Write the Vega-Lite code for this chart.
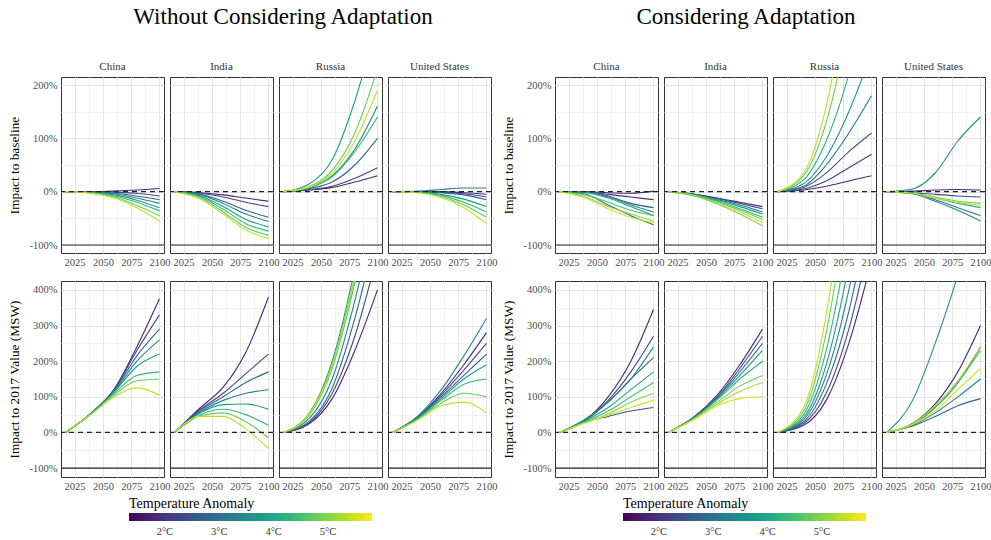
{
"$schema": "https://vega.github.io/schema/vega-lite/v6.json",
"padding": {"left": 7, "top": 6, "right": 0, "bottom": 0},
"background": "white",
"data": {"values": [
{"a":"W","m":"B","c":"China","i":1,"t":1.8,"x":2017,"v":0},{"a":"W","m":"B","c":"China","i":1,"t":1.8,"x":2040,"v":0},{"a":"W","m":"B","c":"China","i":1,"t":1.8,"x":2060,"v":1},{"a":"W","m":"B","c":"China","i":1,"t":1.8,"x":2080,"v":3},{"a":"W","m":"B","c":"China","i":1,"t":1.8,"x":2100,"v":6},
{"a":"W","m":"B","c":"China","i":2,"t":2.3,"x":2017,"v":0},{"a":"W","m":"B","c":"China","i":2,"t":2.3,"x":2040,"v":0},{"a":"W","m":"B","c":"China","i":2,"t":2.3,"x":2060,"v":-1},{"a":"W","m":"B","c":"China","i":2,"t":2.3,"x":2080,"v":-3},{"a":"W","m":"B","c":"China","i":2,"t":2.3,"x":2100,"v":-8},
{"a":"W","m":"B","c":"China","i":3,"t":2.8,"x":2017,"v":0},{"a":"W","m":"B","c":"China","i":3,"t":2.8,"x":2040,"v":-1},{"a":"W","m":"B","c":"China","i":3,"t":2.8,"x":2060,"v":-3},{"a":"W","m":"B","c":"China","i":3,"t":2.8,"x":2080,"v":-8},{"a":"W","m":"B","c":"China","i":3,"t":2.8,"x":2100,"v":-15},
{"a":"W","m":"B","c":"China","i":4,"t":3.3,"x":2017,"v":0},{"a":"W","m":"B","c":"China","i":4,"t":3.3,"x":2040,"v":-1},{"a":"W","m":"B","c":"China","i":4,"t":3.3,"x":2060,"v":-4},{"a":"W","m":"B","c":"China","i":4,"t":3.3,"x":2080,"v":-12},{"a":"W","m":"B","c":"China","i":4,"t":3.3,"x":2100,"v":-22},
{"a":"W","m":"B","c":"China","i":5,"t":3.8,"x":2017,"v":0},{"a":"W","m":"B","c":"China","i":5,"t":3.8,"x":2040,"v":-2},{"a":"W","m":"B","c":"China","i":5,"t":3.8,"x":2060,"v":-6},{"a":"W","m":"B","c":"China","i":5,"t":3.8,"x":2080,"v":-16},{"a":"W","m":"B","c":"China","i":5,"t":3.8,"x":2100,"v":-30},
{"a":"W","m":"B","c":"China","i":6,"t":4.3,"x":2017,"v":0},{"a":"W","m":"B","c":"China","i":6,"t":4.3,"x":2040,"v":-2},{"a":"W","m":"B","c":"China","i":6,"t":4.3,"x":2060,"v":-8},{"a":"W","m":"B","c":"China","i":6,"t":4.3,"x":2080,"v":-20},{"a":"W","m":"B","c":"China","i":6,"t":4.3,"x":2100,"v":-36},
{"a":"W","m":"B","c":"China","i":7,"t":4.8,"x":2017,"v":0},{"a":"W","m":"B","c":"China","i":7,"t":4.8,"x":2040,"v":-3},{"a":"W","m":"B","c":"China","i":7,"t":4.8,"x":2060,"v":-10},{"a":"W","m":"B","c":"China","i":7,"t":4.8,"x":2080,"v":-26},{"a":"W","m":"B","c":"China","i":7,"t":4.8,"x":2100,"v":-45},
{"a":"W","m":"B","c":"China","i":8,"t":5.4,"x":2017,"v":0},{"a":"W","m":"B","c":"China","i":8,"t":5.4,"x":2040,"v":-3},{"a":"W","m":"B","c":"China","i":8,"t":5.4,"x":2060,"v":-12},{"a":"W","m":"B","c":"China","i":8,"t":5.4,"x":2080,"v":-30},{"a":"W","m":"B","c":"China","i":8,"t":5.4,"x":2100,"v":-55},
{"a":"W","m":"B","c":"India","i":1,"t":1.8,"x":2017,"v":0},{"a":"W","m":"B","c":"India","i":1,"t":1.8,"x":2040,"v":-2},{"a":"W","m":"B","c":"India","i":1,"t":1.8,"x":2060,"v":-6},{"a":"W","m":"B","c":"India","i":1,"t":1.8,"x":2080,"v":-12},{"a":"W","m":"B","c":"India","i":1,"t":1.8,"x":2100,"v":-18},
{"a":"W","m":"B","c":"India","i":2,"t":2.3,"x":2017,"v":0},{"a":"W","m":"B","c":"India","i":2,"t":2.3,"x":2040,"v":-3},{"a":"W","m":"B","c":"India","i":2,"t":2.3,"x":2060,"v":-10},{"a":"W","m":"B","c":"India","i":2,"t":2.3,"x":2080,"v":-20},{"a":"W","m":"B","c":"India","i":2,"t":2.3,"x":2100,"v":-28},
{"a":"W","m":"B","c":"India","i":3,"t":2.8,"x":2017,"v":0},{"a":"W","m":"B","c":"India","i":3,"t":2.8,"x":2040,"v":-5},{"a":"W","m":"B","c":"India","i":3,"t":2.8,"x":2060,"v":-18},{"a":"W","m":"B","c":"India","i":3,"t":2.8,"x":2080,"v":-35},{"a":"W","m":"B","c":"India","i":3,"t":2.8,"x":2100,"v":-48},
{"a":"W","m":"B","c":"India","i":4,"t":3.3,"x":2017,"v":0},{"a":"W","m":"B","c":"India","i":4,"t":3.3,"x":2040,"v":-6},{"a":"W","m":"B","c":"India","i":4,"t":3.3,"x":2060,"v":-22},{"a":"W","m":"B","c":"India","i":4,"t":3.3,"x":2080,"v":-42},{"a":"W","m":"B","c":"India","i":4,"t":3.3,"x":2100,"v":-56},
{"a":"W","m":"B","c":"India","i":5,"t":3.8,"x":2017,"v":0},{"a":"W","m":"B","c":"India","i":5,"t":3.8,"x":2040,"v":-8},{"a":"W","m":"B","c":"India","i":5,"t":3.8,"x":2060,"v":-28},{"a":"W","m":"B","c":"India","i":5,"t":3.8,"x":2080,"v":-52},{"a":"W","m":"B","c":"India","i":5,"t":3.8,"x":2100,"v":-66},
{"a":"W","m":"B","c":"India","i":6,"t":4.3,"x":2017,"v":0},{"a":"W","m":"B","c":"India","i":6,"t":4.3,"x":2040,"v":-10},{"a":"W","m":"B","c":"India","i":6,"t":4.3,"x":2060,"v":-33},{"a":"W","m":"B","c":"India","i":6,"t":4.3,"x":2080,"v":-60},{"a":"W","m":"B","c":"India","i":6,"t":4.3,"x":2100,"v":-74},
{"a":"W","m":"B","c":"India","i":7,"t":4.8,"x":2017,"v":0},{"a":"W","m":"B","c":"India","i":7,"t":4.8,"x":2040,"v":-12},{"a":"W","m":"B","c":"India","i":7,"t":4.8,"x":2060,"v":-38},{"a":"W","m":"B","c":"India","i":7,"t":4.8,"x":2080,"v":-67},{"a":"W","m":"B","c":"India","i":7,"t":4.8,"x":2100,"v":-82},
{"a":"W","m":"B","c":"India","i":8,"t":5.4,"x":2017,"v":0},{"a":"W","m":"B","c":"India","i":8,"t":5.4,"x":2040,"v":-14},{"a":"W","m":"B","c":"India","i":8,"t":5.4,"x":2060,"v":-42},{"a":"W","m":"B","c":"India","i":8,"t":5.4,"x":2080,"v":-72},{"a":"W","m":"B","c":"India","i":8,"t":5.4,"x":2100,"v":-88},
{"a":"W","m":"B","c":"Russia","i":1,"t":1.8,"x":2017,"v":0},{"a":"W","m":"B","c":"Russia","i":1,"t":1.8,"x":2040,"v":3},{"a":"W","m":"B","c":"Russia","i":1,"t":1.8,"x":2060,"v":8},{"a":"W","m":"B","c":"Russia","i":1,"t":1.8,"x":2080,"v":18},{"a":"W","m":"B","c":"Russia","i":1,"t":1.8,"x":2100,"v":30},
{"a":"W","m":"B","c":"Russia","i":2,"t":2.3,"x":2017,"v":0},{"a":"W","m":"B","c":"Russia","i":2,"t":2.3,"x":2040,"v":4},{"a":"W","m":"B","c":"Russia","i":2,"t":2.3,"x":2060,"v":10},{"a":"W","m":"B","c":"Russia","i":2,"t":2.3,"x":2080,"v":25},{"a":"W","m":"B","c":"Russia","i":2,"t":2.3,"x":2100,"v":45},
{"a":"W","m":"B","c":"Russia","i":3,"t":2.8,"x":2017,"v":0},{"a":"W","m":"B","c":"Russia","i":3,"t":2.8,"x":2040,"v":6},{"a":"W","m":"B","c":"Russia","i":3,"t":2.8,"x":2060,"v":18},{"a":"W","m":"B","c":"Russia","i":3,"t":2.8,"x":2080,"v":50},{"a":"W","m":"B","c":"Russia","i":3,"t":2.8,"x":2100,"v":100},
{"a":"W","m":"B","c":"Russia","i":4,"t":3.3,"x":2017,"v":0},{"a":"W","m":"B","c":"Russia","i":4,"t":3.3,"x":2040,"v":8},{"a":"W","m":"B","c":"Russia","i":4,"t":3.3,"x":2060,"v":30},{"a":"W","m":"B","c":"Russia","i":4,"t":3.3,"x":2080,"v":80},{"a":"W","m":"B","c":"Russia","i":4,"t":3.3,"x":2100,"v":160},
{"a":"W","m":"B","c":"Russia","i":5,"t":3.8,"x":2017,"v":0},{"a":"W","m":"B","c":"Russia","i":5,"t":3.8,"x":2040,"v":15},{"a":"W","m":"B","c":"Russia","i":5,"t":3.8,"x":2060,"v":60},{"a":"W","m":"B","c":"Russia","i":5,"t":3.8,"x":2080,"v":170},{"a":"W","m":"B","c":"Russia","i":5,"t":3.8,"x":2100,"v":320},
{"a":"W","m":"B","c":"Russia","i":6,"t":4.3,"x":2017,"v":0},{"a":"W","m":"B","c":"Russia","i":6,"t":4.3,"x":2040,"v":8},{"a":"W","m":"B","c":"Russia","i":6,"t":4.3,"x":2060,"v":28},{"a":"W","m":"B","c":"Russia","i":6,"t":4.3,"x":2080,"v":75},{"a":"W","m":"B","c":"Russia","i":6,"t":4.3,"x":2100,"v":140},
{"a":"W","m":"B","c":"Russia","i":7,"t":4.8,"x":2017,"v":0},{"a":"W","m":"B","c":"Russia","i":7,"t":4.8,"x":2040,"v":10},{"a":"W","m":"B","c":"Russia","i":7,"t":4.8,"x":2060,"v":40},{"a":"W","m":"B","c":"Russia","i":7,"t":4.8,"x":2080,"v":110},{"a":"W","m":"B","c":"Russia","i":7,"t":4.8,"x":2100,"v":230},
{"a":"W","m":"B","c":"Russia","i":8,"t":5.4,"x":2017,"v":0},{"a":"W","m":"B","c":"Russia","i":8,"t":5.4,"x":2040,"v":9},{"a":"W","m":"B","c":"Russia","i":8,"t":5.4,"x":2060,"v":35},{"a":"W","m":"B","c":"Russia","i":8,"t":5.4,"x":2080,"v":95},{"a":"W","m":"B","c":"Russia","i":8,"t":5.4,"x":2100,"v":190},
{"a":"W","m":"B","c":"United States","i":1,"t":1.8,"x":2017,"v":0},{"a":"W","m":"B","c":"United States","i":1,"t":1.8,"x":2040,"v":0},{"a":"W","m":"B","c":"United States","i":1,"t":1.8,"x":2060,"v":0},{"a":"W","m":"B","c":"United States","i":1,"t":1.8,"x":2080,"v":-2},{"a":"W","m":"B","c":"United States","i":1,"t":1.8,"x":2100,"v":-5},
{"a":"W","m":"B","c":"United States","i":2,"t":2.3,"x":2017,"v":0},{"a":"W","m":"B","c":"United States","i":2,"t":2.3,"x":2040,"v":0},{"a":"W","m":"B","c":"United States","i":2,"t":2.3,"x":2060,"v":-1},{"a":"W","m":"B","c":"United States","i":2,"t":2.3,"x":2080,"v":-4},{"a":"W","m":"B","c":"United States","i":2,"t":2.3,"x":2100,"v":-10},
{"a":"W","m":"B","c":"United States","i":3,"t":2.8,"x":2017,"v":0},{"a":"W","m":"B","c":"United States","i":3,"t":2.8,"x":2040,"v":0},{"a":"W","m":"B","c":"United States","i":3,"t":2.8,"x":2060,"v":-2},{"a":"W","m":"B","c":"United States","i":3,"t":2.8,"x":2080,"v":-6},{"a":"W","m":"B","c":"United States","i":3,"t":2.8,"x":2100,"v":-15},
{"a":"W","m":"B","c":"United States","i":4,"t":3.3,"x":2017,"v":0},{"a":"W","m":"B","c":"United States","i":4,"t":3.3,"x":2040,"v":1},{"a":"W","m":"B","c":"United States","i":4,"t":3.3,"x":2060,"v":4},{"a":"W","m":"B","c":"United States","i":4,"t":3.3,"x":2080,"v":7},{"a":"W","m":"B","c":"United States","i":4,"t":3.3,"x":2100,"v":7},
{"a":"W","m":"B","c":"United States","i":5,"t":3.8,"x":2017,"v":0},{"a":"W","m":"B","c":"United States","i":5,"t":3.8,"x":2040,"v":-1},{"a":"W","m":"B","c":"United States","i":5,"t":3.8,"x":2060,"v":-5},{"a":"W","m":"B","c":"United States","i":5,"t":3.8,"x":2080,"v":-14},{"a":"W","m":"B","c":"United States","i":5,"t":3.8,"x":2100,"v":-28},
{"a":"W","m":"B","c":"United States","i":6,"t":4.3,"x":2017,"v":0},{"a":"W","m":"B","c":"United States","i":6,"t":4.3,"x":2040,"v":-1},{"a":"W","m":"B","c":"United States","i":6,"t":4.3,"x":2060,"v":-7},{"a":"W","m":"B","c":"United States","i":6,"t":4.3,"x":2080,"v":-20},{"a":"W","m":"B","c":"United States","i":6,"t":4.3,"x":2100,"v":-38},
{"a":"W","m":"B","c":"United States","i":7,"t":4.8,"x":2017,"v":0},{"a":"W","m":"B","c":"United States","i":7,"t":4.8,"x":2040,"v":-2},{"a":"W","m":"B","c":"United States","i":7,"t":4.8,"x":2060,"v":-9},{"a":"W","m":"B","c":"United States","i":7,"t":4.8,"x":2080,"v":-25},{"a":"W","m":"B","c":"United States","i":7,"t":4.8,"x":2100,"v":-48},
{"a":"W","m":"B","c":"United States","i":8,"t":5.4,"x":2017,"v":0},{"a":"W","m":"B","c":"United States","i":8,"t":5.4,"x":2040,"v":-2},{"a":"W","m":"B","c":"United States","i":8,"t":5.4,"x":2060,"v":-11},{"a":"W","m":"B","c":"United States","i":8,"t":5.4,"x":2080,"v":-30},{"a":"W","m":"B","c":"United States","i":8,"t":5.4,"x":2100,"v":-60},
{"a":"W","m":"V","c":"China","i":1,"t":1.8,"x":2017,"v":0},{"a":"W","m":"V","c":"China","i":1,"t":1.8,"x":2040,"v":55},{"a":"W","m":"V","c":"China","i":1,"t":1.8,"x":2060,"v":122},{"a":"W","m":"V","c":"China","i":1,"t":1.8,"x":2080,"v":240},{"a":"W","m":"V","c":"China","i":1,"t":1.8,"x":2100,"v":375},
{"a":"W","m":"V","c":"China","i":2,"t":2.3,"x":2017,"v":0},{"a":"W","m":"V","c":"China","i":2,"t":2.3,"x":2040,"v":55},{"a":"W","m":"V","c":"China","i":2,"t":2.3,"x":2060,"v":120},{"a":"W","m":"V","c":"China","i":2,"t":2.3,"x":2080,"v":230},{"a":"W","m":"V","c":"China","i":2,"t":2.3,"x":2100,"v":330},
{"a":"W","m":"V","c":"China","i":3,"t":2.8,"x":2017,"v":0},{"a":"W","m":"V","c":"China","i":3,"t":2.8,"x":2040,"v":54},{"a":"W","m":"V","c":"China","i":3,"t":2.8,"x":2060,"v":118},{"a":"W","m":"V","c":"China","i":3,"t":2.8,"x":2080,"v":215},{"a":"W","m":"V","c":"China","i":3,"t":2.8,"x":2100,"v":290},
{"a":"W","m":"V","c":"China","i":4,"t":3.3,"x":2017,"v":0},{"a":"W","m":"V","c":"China","i":4,"t":3.3,"x":2040,"v":54},{"a":"W","m":"V","c":"China","i":4,"t":3.3,"x":2060,"v":116},{"a":"W","m":"V","c":"China","i":4,"t":3.3,"x":2080,"v":200},{"a":"W","m":"V","c":"China","i":4,"t":3.3,"x":2100,"v":260},
{"a":"W","m":"V","c":"China","i":5,"t":3.8,"x":2017,"v":0},{"a":"W","m":"V","c":"China","i":5,"t":3.8,"x":2040,"v":54},{"a":"W","m":"V","c":"China","i":5,"t":3.8,"x":2060,"v":114},{"a":"W","m":"V","c":"China","i":5,"t":3.8,"x":2080,"v":185},{"a":"W","m":"V","c":"China","i":5,"t":3.8,"x":2100,"v":220},
{"a":"W","m":"V","c":"China","i":6,"t":4.3,"x":2017,"v":0},{"a":"W","m":"V","c":"China","i":6,"t":4.3,"x":2040,"v":53},{"a":"W","m":"V","c":"China","i":6,"t":4.3,"x":2060,"v":110},{"a":"W","m":"V","c":"China","i":6,"t":4.3,"x":2080,"v":160},{"a":"W","m":"V","c":"China","i":6,"t":4.3,"x":2100,"v":170},
{"a":"W","m":"V","c":"China","i":7,"t":4.8,"x":2017,"v":0},{"a":"W","m":"V","c":"China","i":7,"t":4.8,"x":2040,"v":52},{"a":"W","m":"V","c":"China","i":7,"t":4.8,"x":2060,"v":105},{"a":"W","m":"V","c":"China","i":7,"t":4.8,"x":2080,"v":145},{"a":"W","m":"V","c":"China","i":7,"t":4.8,"x":2100,"v":150},
{"a":"W","m":"V","c":"China","i":8,"t":5.4,"x":2017,"v":0},{"a":"W","m":"V","c":"China","i":8,"t":5.4,"x":2040,"v":52},{"a":"W","m":"V","c":"China","i":8,"t":5.4,"x":2060,"v":100},{"a":"W","m":"V","c":"China","i":8,"t":5.4,"x":2080,"v":125},{"a":"W","m":"V","c":"China","i":8,"t":5.4,"x":2100,"v":105},
{"a":"W","m":"V","c":"India","i":1,"t":1.8,"x":2017,"v":0},{"a":"W","m":"V","c":"India","i":1,"t":1.8,"x":2040,"v":70},{"a":"W","m":"V","c":"India","i":1,"t":1.8,"x":2060,"v":127},{"a":"W","m":"V","c":"India","i":1,"t":1.8,"x":2080,"v":225},{"a":"W","m":"V","c":"India","i":1,"t":1.8,"x":2100,"v":380},
{"a":"W","m":"V","c":"India","i":2,"t":2.3,"x":2017,"v":0},{"a":"W","m":"V","c":"India","i":2,"t":2.3,"x":2040,"v":65},{"a":"W","m":"V","c":"India","i":2,"t":2.3,"x":2060,"v":110},{"a":"W","m":"V","c":"India","i":2,"t":2.3,"x":2080,"v":165},{"a":"W","m":"V","c":"India","i":2,"t":2.3,"x":2100,"v":220},
{"a":"W","m":"V","c":"India","i":3,"t":2.8,"x":2017,"v":0},{"a":"W","m":"V","c":"India","i":3,"t":2.8,"x":2040,"v":62},{"a":"W","m":"V","c":"India","i":3,"t":2.8,"x":2060,"v":100},{"a":"W","m":"V","c":"India","i":3,"t":2.8,"x":2080,"v":140},{"a":"W","m":"V","c":"India","i":3,"t":2.8,"x":2100,"v":170},
{"a":"W","m":"V","c":"India","i":4,"t":3.3,"x":2017,"v":0},{"a":"W","m":"V","c":"India","i":4,"t":3.3,"x":2040,"v":58},{"a":"W","m":"V","c":"India","i":4,"t":3.3,"x":2060,"v":90},{"a":"W","m":"V","c":"India","i":4,"t":3.3,"x":2080,"v":110},{"a":"W","m":"V","c":"India","i":4,"t":3.3,"x":2100,"v":120},
{"a":"W","m":"V","c":"India","i":5,"t":3.8,"x":2017,"v":0},{"a":"W","m":"V","c":"India","i":5,"t":3.8,"x":2040,"v":55},{"a":"W","m":"V","c":"India","i":5,"t":3.8,"x":2060,"v":78},{"a":"W","m":"V","c":"India","i":5,"t":3.8,"x":2080,"v":80},{"a":"W","m":"V","c":"India","i":5,"t":3.8,"x":2100,"v":65},
{"a":"W","m":"V","c":"India","i":6,"t":4.3,"x":2017,"v":0},{"a":"W","m":"V","c":"India","i":6,"t":4.3,"x":2040,"v":50},{"a":"W","m":"V","c":"India","i":6,"t":4.3,"x":2060,"v":65},{"a":"W","m":"V","c":"India","i":6,"t":4.3,"x":2080,"v":50},{"a":"W","m":"V","c":"India","i":6,"t":4.3,"x":2100,"v":20},
{"a":"W","m":"V","c":"India","i":7,"t":4.8,"x":2017,"v":0},{"a":"W","m":"V","c":"India","i":7,"t":4.8,"x":2040,"v":47},{"a":"W","m":"V","c":"India","i":7,"t":4.8,"x":2060,"v":55},{"a":"W","m":"V","c":"India","i":7,"t":4.8,"x":2080,"v":30},{"a":"W","m":"V","c":"India","i":7,"t":4.8,"x":2100,"v":-15},
{"a":"W","m":"V","c":"India","i":8,"t":5.4,"x":2017,"v":0},{"a":"W","m":"V","c":"India","i":8,"t":5.4,"x":2040,"v":45},{"a":"W","m":"V","c":"India","i":8,"t":5.4,"x":2060,"v":45},{"a":"W","m":"V","c":"India","i":8,"t":5.4,"x":2080,"v":10},{"a":"W","m":"V","c":"India","i":8,"t":5.4,"x":2100,"v":-45},
{"a":"W","m":"V","c":"Russia","i":1,"t":1.8,"x":2017,"v":0},{"a":"W","m":"V","c":"Russia","i":1,"t":1.8,"x":2040,"v":25},{"a":"W","m":"V","c":"Russia","i":1,"t":1.8,"x":2060,"v":95},{"a":"W","m":"V","c":"Russia","i":1,"t":1.8,"x":2080,"v":230},{"a":"W","m":"V","c":"Russia","i":1,"t":1.8,"x":2100,"v":400},
{"a":"W","m":"V","c":"Russia","i":2,"t":2.3,"x":2017,"v":0},{"a":"W","m":"V","c":"Russia","i":2,"t":2.3,"x":2040,"v":28},{"a":"W","m":"V","c":"Russia","i":2,"t":2.3,"x":2060,"v":110},{"a":"W","m":"V","c":"Russia","i":2,"t":2.3,"x":2080,"v":270},{"a":"W","m":"V","c":"Russia","i":2,"t":2.3,"x":2100,"v":500},
{"a":"W","m":"V","c":"Russia","i":3,"t":2.8,"x":2017,"v":0},{"a":"W","m":"V","c":"Russia","i":3,"t":2.8,"x":2040,"v":32},{"a":"W","m":"V","c":"Russia","i":3,"t":2.8,"x":2060,"v":125},{"a":"W","m":"V","c":"Russia","i":3,"t":2.8,"x":2080,"v":320},{"a":"W","m":"V","c":"Russia","i":3,"t":2.8,"x":2100,"v":580},
{"a":"W","m":"V","c":"Russia","i":4,"t":3.3,"x":2017,"v":0},{"a":"W","m":"V","c":"Russia","i":4,"t":3.3,"x":2040,"v":40},{"a":"W","m":"V","c":"Russia","i":4,"t":3.3,"x":2060,"v":150},{"a":"W","m":"V","c":"Russia","i":4,"t":3.3,"x":2080,"v":370},{"a":"W","m":"V","c":"Russia","i":4,"t":3.3,"x":2100,"v":650},
{"a":"W","m":"V","c":"Russia","i":5,"t":3.8,"x":2017,"v":0},{"a":"W","m":"V","c":"Russia","i":5,"t":3.8,"x":2040,"v":55},{"a":"W","m":"V","c":"Russia","i":5,"t":3.8,"x":2060,"v":200},{"a":"W","m":"V","c":"Russia","i":5,"t":3.8,"x":2080,"v":460},{"a":"W","m":"V","c":"Russia","i":5,"t":3.8,"x":2100,"v":800},
{"a":"W","m":"V","c":"Russia","i":6,"t":4.3,"x":2017,"v":0},{"a":"W","m":"V","c":"Russia","i":6,"t":4.3,"x":2040,"v":50},{"a":"W","m":"V","c":"Russia","i":6,"t":4.3,"x":2060,"v":180},{"a":"W","m":"V","c":"Russia","i":6,"t":4.3,"x":2080,"v":420},{"a":"W","m":"V","c":"Russia","i":6,"t":4.3,"x":2100,"v":720},
{"a":"W","m":"V","c":"Russia","i":7,"t":4.8,"x":2017,"v":0},{"a":"W","m":"V","c":"Russia","i":7,"t":4.8,"x":2040,"v":55},{"a":"W","m":"V","c":"Russia","i":7,"t":4.8,"x":2060,"v":190},{"a":"W","m":"V","c":"Russia","i":7,"t":4.8,"x":2080,"v":440},{"a":"W","m":"V","c":"Russia","i":7,"t":4.8,"x":2100,"v":760},
{"a":"W","m":"V","c":"Russia","i":8,"t":5.4,"x":2017,"v":0},{"a":"W","m":"V","c":"Russia","i":8,"t":5.4,"x":2040,"v":52},{"a":"W","m":"V","c":"Russia","i":8,"t":5.4,"x":2060,"v":185},{"a":"W","m":"V","c":"Russia","i":8,"t":5.4,"x":2080,"v":430},{"a":"W","m":"V","c":"Russia","i":8,"t":5.4,"x":2100,"v":740},
{"a":"W","m":"V","c":"United States","i":1,"t":1.8,"x":2017,"v":0},{"a":"W","m":"V","c":"United States","i":1,"t":1.8,"x":2040,"v":45},{"a":"W","m":"V","c":"United States","i":1,"t":1.8,"x":2060,"v":110},{"a":"W","m":"V","c":"United States","i":1,"t":1.8,"x":2080,"v":190},{"a":"W","m":"V","c":"United States","i":1,"t":1.8,"x":2100,"v":280},
{"a":"W","m":"V","c":"United States","i":2,"t":2.3,"x":2017,"v":0},{"a":"W","m":"V","c":"United States","i":2,"t":2.3,"x":2040,"v":45},{"a":"W","m":"V","c":"United States","i":2,"t":2.3,"x":2060,"v":105},{"a":"W","m":"V","c":"United States","i":2,"t":2.3,"x":2080,"v":175},{"a":"W","m":"V","c":"United States","i":2,"t":2.3,"x":2100,"v":250},
{"a":"W","m":"V","c":"United States","i":3,"t":2.8,"x":2017,"v":0},{"a":"W","m":"V","c":"United States","i":3,"t":2.8,"x":2040,"v":43},{"a":"W","m":"V","c":"United States","i":3,"t":2.8,"x":2060,"v":100},{"a":"W","m":"V","c":"United States","i":3,"t":2.8,"x":2080,"v":160},{"a":"W","m":"V","c":"United States","i":3,"t":2.8,"x":2100,"v":220},
{"a":"W","m":"V","c":"United States","i":4,"t":3.3,"x":2017,"v":0},{"a":"W","m":"V","c":"United States","i":4,"t":3.3,"x":2040,"v":48},{"a":"W","m":"V","c":"United States","i":4,"t":3.3,"x":2060,"v":120},{"a":"W","m":"V","c":"United States","i":4,"t":3.3,"x":2080,"v":215},{"a":"W","m":"V","c":"United States","i":4,"t":3.3,"x":2100,"v":320},
{"a":"W","m":"V","c":"United States","i":5,"t":3.8,"x":2017,"v":0},{"a":"W","m":"V","c":"United States","i":5,"t":3.8,"x":2040,"v":42},{"a":"W","m":"V","c":"United States","i":5,"t":3.8,"x":2060,"v":95},{"a":"W","m":"V","c":"United States","i":5,"t":3.8,"x":2080,"v":150},{"a":"W","m":"V","c":"United States","i":5,"t":3.8,"x":2100,"v":190},
{"a":"W","m":"V","c":"United States","i":6,"t":4.3,"x":2017,"v":0},{"a":"W","m":"V","c":"United States","i":6,"t":4.3,"x":2040,"v":40},{"a":"W","m":"V","c":"United States","i":6,"t":4.3,"x":2060,"v":90},{"a":"W","m":"V","c":"United States","i":6,"t":4.3,"x":2080,"v":135},{"a":"W","m":"V","c":"United States","i":6,"t":4.3,"x":2100,"v":150},
{"a":"W","m":"V","c":"United States","i":7,"t":4.8,"x":2017,"v":0},{"a":"W","m":"V","c":"United States","i":7,"t":4.8,"x":2040,"v":38},{"a":"W","m":"V","c":"United States","i":7,"t":4.8,"x":2060,"v":82},{"a":"W","m":"V","c":"United States","i":7,"t":4.8,"x":2080,"v":110},{"a":"W","m":"V","c":"United States","i":7,"t":4.8,"x":2100,"v":100},
{"a":"W","m":"V","c":"United States","i":8,"t":5.4,"x":2017,"v":0},{"a":"W","m":"V","c":"United States","i":8,"t":5.4,"x":2040,"v":36},{"a":"W","m":"V","c":"United States","i":8,"t":5.4,"x":2060,"v":75},{"a":"W","m":"V","c":"United States","i":8,"t":5.4,"x":2080,"v":85},{"a":"W","m":"V","c":"United States","i":8,"t":5.4,"x":2100,"v":55},
{"a":"C","m":"B","c":"China","i":1,"t":1.8,"x":2017,"v":0},{"a":"C","m":"B","c":"China","i":1,"t":1.8,"x":2040,"v":0},{"a":"C","m":"B","c":"China","i":1,"t":1.8,"x":2060,"v":-2},{"a":"C","m":"B","c":"China","i":1,"t":1.8,"x":2080,"v":-3},{"a":"C","m":"B","c":"China","i":1,"t":1.8,"x":2100,"v":1},
{"a":"C","m":"B","c":"China","i":2,"t":2.0,"x":2017,"v":0},{"a":"C","m":"B","c":"China","i":2,"t":2.0,"x":2040,"v":-1},{"a":"C","m":"B","c":"China","i":2,"t":2.0,"x":2060,"v":-5},{"a":"C","m":"B","c":"China","i":2,"t":2.0,"x":2080,"v":-10},{"a":"C","m":"B","c":"China","i":2,"t":2.0,"x":2100,"v":-15},
{"a":"C","m":"B","c":"China","i":3,"t":2.6,"x":2017,"v":0},{"a":"C","m":"B","c":"China","i":3,"t":2.6,"x":2040,"v":0},{"a":"C","m":"B","c":"China","i":3,"t":2.6,"x":2060,"v":-8},{"a":"C","m":"B","c":"China","i":3,"t":2.6,"x":2080,"v":-22},{"a":"C","m":"B","c":"China","i":3,"t":2.6,"x":2100,"v":-30},
{"a":"C","m":"B","c":"China","i":4,"t":2.9,"x":2017,"v":0},{"a":"C","m":"B","c":"China","i":4,"t":2.9,"x":2040,"v":-5},{"a":"C","m":"B","c":"China","i":4,"t":2.9,"x":2060,"v":-25},{"a":"C","m":"B","c":"China","i":4,"t":2.9,"x":2080,"v":-45},{"a":"C","m":"B","c":"China","i":4,"t":2.9,"x":2100,"v":-62},
{"a":"C","m":"B","c":"China","i":5,"t":3.4,"x":2017,"v":0},{"a":"C","m":"B","c":"China","i":5,"t":3.4,"x":2040,"v":-1},{"a":"C","m":"B","c":"China","i":5,"t":3.4,"x":2060,"v":-10},{"a":"C","m":"B","c":"China","i":5,"t":3.4,"x":2080,"v":-25},{"a":"C","m":"B","c":"China","i":5,"t":3.4,"x":2100,"v":-38},
{"a":"C","m":"B","c":"China","i":6,"t":3.9,"x":2017,"v":0},{"a":"C","m":"B","c":"China","i":6,"t":3.9,"x":2040,"v":-2},{"a":"C","m":"B","c":"China","i":6,"t":3.9,"x":2060,"v":-12},{"a":"C","m":"B","c":"China","i":6,"t":3.9,"x":2080,"v":-28},{"a":"C","m":"B","c":"China","i":6,"t":3.9,"x":2100,"v":-45},
{"a":"C","m":"B","c":"China","i":7,"t":4.5,"x":2017,"v":0},{"a":"C","m":"B","c":"China","i":7,"t":4.5,"x":2040,"v":-6},{"a":"C","m":"B","c":"China","i":7,"t":4.5,"x":2060,"v":-20},{"a":"C","m":"B","c":"China","i":7,"t":4.5,"x":2080,"v":-35},{"a":"C","m":"B","c":"China","i":7,"t":4.5,"x":2100,"v":-45},
{"a":"C","m":"B","c":"China","i":8,"t":5.0,"x":2017,"v":0},{"a":"C","m":"B","c":"China","i":8,"t":5.0,"x":2040,"v":-10},{"a":"C","m":"B","c":"China","i":8,"t":5.0,"x":2060,"v":-28},{"a":"C","m":"B","c":"China","i":8,"t":5.0,"x":2080,"v":-42},{"a":"C","m":"B","c":"China","i":8,"t":5.0,"x":2100,"v":-55},
{"a":"C","m":"B","c":"China","i":9,"t":5.5,"x":2017,"v":0},{"a":"C","m":"B","c":"China","i":9,"t":5.5,"x":2040,"v":-12},{"a":"C","m":"B","c":"China","i":9,"t":5.5,"x":2060,"v":-32},{"a":"C","m":"B","c":"China","i":9,"t":5.5,"x":2080,"v":-48},{"a":"C","m":"B","c":"China","i":9,"t":5.5,"x":2100,"v":-58},
{"a":"C","m":"B","c":"India","i":1,"t":1.8,"x":2017,"v":0},{"a":"C","m":"B","c":"India","i":1,"t":1.8,"x":2040,"v":-5},{"a":"C","m":"B","c":"India","i":1,"t":1.8,"x":2060,"v":-12},{"a":"C","m":"B","c":"India","i":1,"t":1.8,"x":2080,"v":-20},{"a":"C","m":"B","c":"India","i":1,"t":1.8,"x":2100,"v":-28},
{"a":"C","m":"B","c":"India","i":2,"t":2.5,"x":2017,"v":0},{"a":"C","m":"B","c":"India","i":2,"t":2.5,"x":2040,"v":-5},{"a":"C","m":"B","c":"India","i":2,"t":2.5,"x":2060,"v":-13},{"a":"C","m":"B","c":"India","i":2,"t":2.5,"x":2080,"v":-22},{"a":"C","m":"B","c":"India","i":2,"t":2.5,"x":2100,"v":-32},
{"a":"C","m":"B","c":"India","i":3,"t":3.2,"x":2017,"v":0},{"a":"C","m":"B","c":"India","i":3,"t":3.2,"x":2040,"v":-6},{"a":"C","m":"B","c":"India","i":3,"t":3.2,"x":2060,"v":-15},{"a":"C","m":"B","c":"India","i":3,"t":3.2,"x":2080,"v":-25},{"a":"C","m":"B","c":"India","i":3,"t":3.2,"x":2100,"v":-38},
{"a":"C","m":"B","c":"India","i":4,"t":3.8,"x":2017,"v":0},{"a":"C","m":"B","c":"India","i":4,"t":3.8,"x":2040,"v":-6},{"a":"C","m":"B","c":"India","i":4,"t":3.8,"x":2060,"v":-16},{"a":"C","m":"B","c":"India","i":4,"t":3.8,"x":2080,"v":-28},{"a":"C","m":"B","c":"India","i":4,"t":3.8,"x":2100,"v":-42},
{"a":"C","m":"B","c":"India","i":5,"t":4.3,"x":2017,"v":0},{"a":"C","m":"B","c":"India","i":5,"t":4.3,"x":2040,"v":-7},{"a":"C","m":"B","c":"India","i":5,"t":4.3,"x":2060,"v":-18},{"a":"C","m":"B","c":"India","i":5,"t":4.3,"x":2080,"v":-32},{"a":"C","m":"B","c":"India","i":5,"t":4.3,"x":2100,"v":-48},
{"a":"C","m":"B","c":"India","i":6,"t":4.8,"x":2017,"v":0},{"a":"C","m":"B","c":"India","i":6,"t":4.8,"x":2040,"v":-7},{"a":"C","m":"B","c":"India","i":6,"t":4.8,"x":2060,"v":-20},{"a":"C","m":"B","c":"India","i":6,"t":4.8,"x":2080,"v":-35},{"a":"C","m":"B","c":"India","i":6,"t":4.8,"x":2100,"v":-52},
{"a":"C","m":"B","c":"India","i":7,"t":5.4,"x":2017,"v":0},{"a":"C","m":"B","c":"India","i":7,"t":5.4,"x":2040,"v":-8},{"a":"C","m":"B","c":"India","i":7,"t":5.4,"x":2060,"v":-22},{"a":"C","m":"B","c":"India","i":7,"t":5.4,"x":2080,"v":-38},{"a":"C","m":"B","c":"India","i":7,"t":5.4,"x":2100,"v":-58},
{"a":"C","m":"B","c":"India","i":8,"t":5.0,"x":2017,"v":0},{"a":"C","m":"B","c":"India","i":8,"t":5.0,"x":2040,"v":-8},{"a":"C","m":"B","c":"India","i":8,"t":5.0,"x":2060,"v":-23},{"a":"C","m":"B","c":"India","i":8,"t":5.0,"x":2080,"v":-42},{"a":"C","m":"B","c":"India","i":8,"t":5.0,"x":2100,"v":-64},
{"a":"C","m":"B","c":"Russia","i":1,"t":1.8,"x":2017,"v":0},{"a":"C","m":"B","c":"Russia","i":1,"t":1.8,"x":2040,"v":3},{"a":"C","m":"B","c":"Russia","i":1,"t":1.8,"x":2060,"v":10},{"a":"C","m":"B","c":"Russia","i":1,"t":1.8,"x":2080,"v":20},{"a":"C","m":"B","c":"Russia","i":1,"t":1.8,"x":2100,"v":30},
{"a":"C","m":"B","c":"Russia","i":2,"t":2.2,"x":2017,"v":0},{"a":"C","m":"B","c":"Russia","i":2,"t":2.2,"x":2040,"v":5},{"a":"C","m":"B","c":"Russia","i":2,"t":2.2,"x":2060,"v":20},{"a":"C","m":"B","c":"Russia","i":2,"t":2.2,"x":2080,"v":45},{"a":"C","m":"B","c":"Russia","i":2,"t":2.2,"x":2100,"v":70},
{"a":"C","m":"B","c":"Russia","i":3,"t":2.6,"x":2017,"v":0},{"a":"C","m":"B","c":"Russia","i":3,"t":2.6,"x":2040,"v":8},{"a":"C","m":"B","c":"Russia","i":3,"t":2.6,"x":2060,"v":35},{"a":"C","m":"B","c":"Russia","i":3,"t":2.6,"x":2080,"v":75},{"a":"C","m":"B","c":"Russia","i":3,"t":2.6,"x":2100,"v":110},
{"a":"C","m":"B","c":"Russia","i":4,"t":3.1,"x":2017,"v":0},{"a":"C","m":"B","c":"Russia","i":4,"t":3.1,"x":2040,"v":10},{"a":"C","m":"B","c":"Russia","i":4,"t":3.1,"x":2060,"v":50},{"a":"C","m":"B","c":"Russia","i":4,"t":3.1,"x":2080,"v":110},{"a":"C","m":"B","c":"Russia","i":4,"t":3.1,"x":2100,"v":180},
{"a":"C","m":"B","c":"Russia","i":5,"t":3.6,"x":2017,"v":0},{"a":"C","m":"B","c":"Russia","i":5,"t":3.6,"x":2040,"v":15},{"a":"C","m":"B","c":"Russia","i":5,"t":3.6,"x":2060,"v":65},{"a":"C","m":"B","c":"Russia","i":5,"t":3.6,"x":2080,"v":150},{"a":"C","m":"B","c":"Russia","i":5,"t":3.6,"x":2100,"v":260},
{"a":"C","m":"B","c":"Russia","i":6,"t":4.2,"x":2017,"v":0},{"a":"C","m":"B","c":"Russia","i":6,"t":4.2,"x":2040,"v":22},{"a":"C","m":"B","c":"Russia","i":6,"t":4.2,"x":2060,"v":95},{"a":"C","m":"B","c":"Russia","i":6,"t":4.2,"x":2080,"v":220},{"a":"C","m":"B","c":"Russia","i":6,"t":4.2,"x":2100,"v":400},
{"a":"C","m":"B","c":"Russia","i":7,"t":4.8,"x":2017,"v":0},{"a":"C","m":"B","c":"Russia","i":7,"t":4.8,"x":2040,"v":30},{"a":"C","m":"B","c":"Russia","i":7,"t":4.8,"x":2060,"v":130},{"a":"C","m":"B","c":"Russia","i":7,"t":4.8,"x":2080,"v":320},{"a":"C","m":"B","c":"Russia","i":7,"t":4.8,"x":2100,"v":600},
{"a":"C","m":"B","c":"Russia","i":8,"t":5.4,"x":2017,"v":0},{"a":"C","m":"B","c":"Russia","i":8,"t":5.4,"x":2040,"v":35},{"a":"C","m":"B","c":"Russia","i":8,"t":5.4,"x":2060,"v":160},{"a":"C","m":"B","c":"Russia","i":8,"t":5.4,"x":2080,"v":400},{"a":"C","m":"B","c":"Russia","i":8,"t":5.4,"x":2100,"v":750},
{"a":"C","m":"B","c":"United States","i":1,"t":1.8,"x":2017,"v":0},{"a":"C","m":"B","c":"United States","i":1,"t":1.8,"x":2040,"v":1},{"a":"C","m":"B","c":"United States","i":1,"t":1.8,"x":2060,"v":3},{"a":"C","m":"B","c":"United States","i":1,"t":1.8,"x":2080,"v":4},{"a":"C","m":"B","c":"United States","i":1,"t":1.8,"x":2100,"v":3},
{"a":"C","m":"B","c":"United States","i":2,"t":2.4,"x":2017,"v":0},{"a":"C","m":"B","c":"United States","i":2,"t":2.4,"x":2040,"v":-2},{"a":"C","m":"B","c":"United States","i":2,"t":2.4,"x":2060,"v":-5},{"a":"C","m":"B","c":"United States","i":2,"t":2.4,"x":2080,"v":-8},{"a":"C","m":"B","c":"United States","i":2,"t":2.4,"x":2100,"v":-10},
{"a":"C","m":"B","c":"United States","i":3,"t":3.0,"x":2017,"v":0},{"a":"C","m":"B","c":"United States","i":3,"t":3.0,"x":2040,"v":-3},{"a":"C","m":"B","c":"United States","i":3,"t":3.0,"x":2060,"v":-15},{"a":"C","m":"B","c":"United States","i":3,"t":3.0,"x":2080,"v":-30},{"a":"C","m":"B","c":"United States","i":3,"t":3.0,"x":2100,"v":-45},
{"a":"C","m":"B","c":"United States","i":4,"t":3.3,"x":2017,"v":0},{"a":"C","m":"B","c":"United States","i":4,"t":3.3,"x":2040,"v":-4},{"a":"C","m":"B","c":"United States","i":4,"t":3.3,"x":2060,"v":-18},{"a":"C","m":"B","c":"United States","i":4,"t":3.3,"x":2080,"v":-35},{"a":"C","m":"B","c":"United States","i":4,"t":3.3,"x":2100,"v":-55},
{"a":"C","m":"B","c":"United States","i":5,"t":3.6,"x":2017,"v":0},{"a":"C","m":"B","c":"United States","i":5,"t":3.6,"x":2040,"v":5},{"a":"C","m":"B","c":"United States","i":5,"t":3.6,"x":2060,"v":35},{"a":"C","m":"B","c":"United States","i":5,"t":3.6,"x":2080,"v":95},{"a":"C","m":"B","c":"United States","i":5,"t":3.6,"x":2100,"v":140},
{"a":"C","m":"B","c":"United States","i":6,"t":4.2,"x":2017,"v":0},{"a":"C","m":"B","c":"United States","i":6,"t":4.2,"x":2040,"v":-3},{"a":"C","m":"B","c":"United States","i":6,"t":4.2,"x":2060,"v":-12},{"a":"C","m":"B","c":"United States","i":6,"t":4.2,"x":2080,"v":-22},{"a":"C","m":"B","c":"United States","i":6,"t":4.2,"x":2100,"v":-30},
{"a":"C","m":"B","c":"United States","i":7,"t":4.8,"x":2017,"v":0},{"a":"C","m":"B","c":"United States","i":7,"t":4.8,"x":2040,"v":-3},{"a":"C","m":"B","c":"United States","i":7,"t":4.8,"x":2060,"v":-10},{"a":"C","m":"B","c":"United States","i":7,"t":4.8,"x":2080,"v":-18},{"a":"C","m":"B","c":"United States","i":7,"t":4.8,"x":2100,"v":-22},
{"a":"C","m":"B","c":"United States","i":8,"t":5.4,"x":2017,"v":0},{"a":"C","m":"B","c":"United States","i":8,"t":5.4,"x":2040,"v":-3},{"a":"C","m":"B","c":"United States","i":8,"t":5.4,"x":2060,"v":-12},{"a":"C","m":"B","c":"United States","i":8,"t":5.4,"x":2080,"v":-20},{"a":"C","m":"B","c":"United States","i":8,"t":5.4,"x":2100,"v":-26},
{"a":"C","m":"V","c":"China","i":1,"t":1.8,"x":2017,"v":0},{"a":"C","m":"V","c":"China","i":1,"t":1.8,"x":2040,"v":35},{"a":"C","m":"V","c":"China","i":1,"t":1.8,"x":2060,"v":100},{"a":"C","m":"V","c":"China","i":1,"t":1.8,"x":2080,"v":200},{"a":"C","m":"V","c":"China","i":1,"t":1.8,"x":2100,"v":345},
{"a":"C","m":"V","c":"China","i":2,"t":2.2,"x":2017,"v":0},{"a":"C","m":"V","c":"China","i":2,"t":2.2,"x":2040,"v":35},{"a":"C","m":"V","c":"China","i":2,"t":2.2,"x":2060,"v":90},{"a":"C","m":"V","c":"China","i":2,"t":2.2,"x":2080,"v":170},{"a":"C","m":"V","c":"China","i":2,"t":2.2,"x":2100,"v":270},
{"a":"C","m":"V","c":"China","i":3,"t":2.5,"x":2017,"v":0},{"a":"C","m":"V","c":"China","i":3,"t":2.5,"x":2040,"v":30},{"a":"C","m":"V","c":"China","i":3,"t":2.5,"x":2060,"v":45},{"a":"C","m":"V","c":"China","i":3,"t":2.5,"x":2080,"v":60},{"a":"C","m":"V","c":"China","i":3,"t":2.5,"x":2100,"v":70},
{"a":"C","m":"V","c":"China","i":4,"t":2.8,"x":2017,"v":0},{"a":"C","m":"V","c":"China","i":4,"t":2.8,"x":2040,"v":35},{"a":"C","m":"V","c":"China","i":4,"t":2.8,"x":2060,"v":85},{"a":"C","m":"V","c":"China","i":4,"t":2.8,"x":2080,"v":150},{"a":"C","m":"V","c":"China","i":4,"t":2.8,"x":2100,"v":210},
{"a":"C","m":"V","c":"China","i":5,"t":3.4,"x":2017,"v":0},{"a":"C","m":"V","c":"China","i":5,"t":3.4,"x":2040,"v":38},{"a":"C","m":"V","c":"China","i":5,"t":3.4,"x":2060,"v":85},{"a":"C","m":"V","c":"China","i":5,"t":3.4,"x":2080,"v":150},{"a":"C","m":"V","c":"China","i":5,"t":3.4,"x":2100,"v":240},
{"a":"C","m":"V","c":"China","i":6,"t":3.9,"x":2017,"v":0},{"a":"C","m":"V","c":"China","i":6,"t":3.9,"x":2040,"v":33},{"a":"C","m":"V","c":"China","i":6,"t":3.9,"x":2060,"v":70},{"a":"C","m":"V","c":"China","i":6,"t":3.9,"x":2080,"v":120},{"a":"C","m":"V","c":"China","i":6,"t":3.9,"x":2100,"v":170},
{"a":"C","m":"V","c":"China","i":7,"t":4.5,"x":2017,"v":0},{"a":"C","m":"V","c":"China","i":7,"t":4.5,"x":2040,"v":30},{"a":"C","m":"V","c":"China","i":7,"t":4.5,"x":2060,"v":60},{"a":"C","m":"V","c":"China","i":7,"t":4.5,"x":2080,"v":100},{"a":"C","m":"V","c":"China","i":7,"t":4.5,"x":2100,"v":140},
{"a":"C","m":"V","c":"China","i":8,"t":5.0,"x":2017,"v":0},{"a":"C","m":"V","c":"China","i":8,"t":5.0,"x":2040,"v":28},{"a":"C","m":"V","c":"China","i":8,"t":5.0,"x":2060,"v":52},{"a":"C","m":"V","c":"China","i":8,"t":5.0,"x":2080,"v":85},{"a":"C","m":"V","c":"China","i":8,"t":5.0,"x":2100,"v":110},
{"a":"C","m":"V","c":"China","i":9,"t":5.5,"x":2017,"v":0},{"a":"C","m":"V","c":"China","i":9,"t":5.5,"x":2040,"v":27},{"a":"C","m":"V","c":"China","i":9,"t":5.5,"x":2060,"v":48},{"a":"C","m":"V","c":"China","i":9,"t":5.5,"x":2080,"v":70},{"a":"C","m":"V","c":"China","i":9,"t":5.5,"x":2100,"v":90},
{"a":"C","m":"V","c":"India","i":1,"t":1.8,"x":2017,"v":0},{"a":"C","m":"V","c":"India","i":1,"t":1.8,"x":2040,"v":45},{"a":"C","m":"V","c":"India","i":1,"t":1.8,"x":2060,"v":105},{"a":"C","m":"V","c":"India","i":1,"t":1.8,"x":2080,"v":190},{"a":"C","m":"V","c":"India","i":1,"t":1.8,"x":2100,"v":290},
{"a":"C","m":"V","c":"India","i":2,"t":2.4,"x":2017,"v":0},{"a":"C","m":"V","c":"India","i":2,"t":2.4,"x":2040,"v":44},{"a":"C","m":"V","c":"India","i":2,"t":2.4,"x":2060,"v":100},{"a":"C","m":"V","c":"India","i":2,"t":2.4,"x":2080,"v":180},{"a":"C","m":"V","c":"India","i":2,"t":2.4,"x":2100,"v":270},
{"a":"C","m":"V","c":"India","i":3,"t":3.0,"x":2017,"v":0},{"a":"C","m":"V","c":"India","i":3,"t":3.0,"x":2040,"v":43},{"a":"C","m":"V","c":"India","i":3,"t":3.0,"x":2060,"v":98},{"a":"C","m":"V","c":"India","i":3,"t":3.0,"x":2080,"v":170},{"a":"C","m":"V","c":"India","i":3,"t":3.0,"x":2100,"v":250},
{"a":"C","m":"V","c":"India","i":4,"t":3.6,"x":2017,"v":0},{"a":"C","m":"V","c":"India","i":4,"t":3.6,"x":2040,"v":42},{"a":"C","m":"V","c":"India","i":4,"t":3.6,"x":2060,"v":95},{"a":"C","m":"V","c":"India","i":4,"t":3.6,"x":2080,"v":160},{"a":"C","m":"V","c":"India","i":4,"t":3.6,"x":2100,"v":230},
{"a":"C","m":"V","c":"India","i":5,"t":4.2,"x":2017,"v":0},{"a":"C","m":"V","c":"India","i":5,"t":4.2,"x":2040,"v":41},{"a":"C","m":"V","c":"India","i":5,"t":4.2,"x":2060,"v":92},{"a":"C","m":"V","c":"India","i":5,"t":4.2,"x":2080,"v":150},{"a":"C","m":"V","c":"India","i":5,"t":4.2,"x":2100,"v":200},
{"a":"C","m":"V","c":"India","i":6,"t":4.8,"x":2017,"v":0},{"a":"C","m":"V","c":"India","i":6,"t":4.8,"x":2040,"v":40},{"a":"C","m":"V","c":"India","i":6,"t":4.8,"x":2060,"v":85},{"a":"C","m":"V","c":"India","i":6,"t":4.8,"x":2080,"v":130},{"a":"C","m":"V","c":"India","i":6,"t":4.8,"x":2100,"v":160},
{"a":"C","m":"V","c":"India","i":7,"t":5.2,"x":2017,"v":0},{"a":"C","m":"V","c":"India","i":7,"t":5.2,"x":2040,"v":38},{"a":"C","m":"V","c":"India","i":7,"t":5.2,"x":2060,"v":80},{"a":"C","m":"V","c":"India","i":7,"t":5.2,"x":2080,"v":115},{"a":"C","m":"V","c":"India","i":7,"t":5.2,"x":2100,"v":140},
{"a":"C","m":"V","c":"India","i":8,"t":5.5,"x":2017,"v":0},{"a":"C","m":"V","c":"India","i":8,"t":5.5,"x":2040,"v":37},{"a":"C","m":"V","c":"India","i":8,"t":5.5,"x":2060,"v":75},{"a":"C","m":"V","c":"India","i":8,"t":5.5,"x":2080,"v":95},{"a":"C","m":"V","c":"India","i":8,"t":5.5,"x":2100,"v":100},
{"a":"C","m":"V","c":"Russia","i":1,"t":1.8,"x":2017,"v":0},{"a":"C","m":"V","c":"Russia","i":1,"t":1.8,"x":2040,"v":20},{"a":"C","m":"V","c":"Russia","i":1,"t":1.8,"x":2060,"v":90},{"a":"C","m":"V","c":"Russia","i":1,"t":1.8,"x":2080,"v":250},{"a":"C","m":"V","c":"Russia","i":1,"t":1.8,"x":2100,"v":480},
{"a":"C","m":"V","c":"Russia","i":2,"t":2.3,"x":2017,"v":0},{"a":"C","m":"V","c":"Russia","i":2,"t":2.3,"x":2040,"v":25},{"a":"C","m":"V","c":"Russia","i":2,"t":2.3,"x":2060,"v":110},{"a":"C","m":"V","c":"Russia","i":2,"t":2.3,"x":2080,"v":290},{"a":"C","m":"V","c":"Russia","i":2,"t":2.3,"x":2100,"v":560},
{"a":"C","m":"V","c":"Russia","i":3,"t":2.8,"x":2017,"v":0},{"a":"C","m":"V","c":"Russia","i":3,"t":2.8,"x":2040,"v":30},{"a":"C","m":"V","c":"Russia","i":3,"t":2.8,"x":2060,"v":135},{"a":"C","m":"V","c":"Russia","i":3,"t":2.8,"x":2080,"v":340},{"a":"C","m":"V","c":"Russia","i":3,"t":2.8,"x":2100,"v":650},
{"a":"C","m":"V","c":"Russia","i":4,"t":3.3,"x":2017,"v":0},{"a":"C","m":"V","c":"Russia","i":4,"t":3.3,"x":2040,"v":36},{"a":"C","m":"V","c":"Russia","i":4,"t":3.3,"x":2060,"v":160},{"a":"C","m":"V","c":"Russia","i":4,"t":3.3,"x":2080,"v":400},{"a":"C","m":"V","c":"Russia","i":4,"t":3.3,"x":2100,"v":750},
{"a":"C","m":"V","c":"Russia","i":5,"t":3.8,"x":2017,"v":0},{"a":"C","m":"V","c":"Russia","i":5,"t":3.8,"x":2040,"v":42},{"a":"C","m":"V","c":"Russia","i":5,"t":3.8,"x":2060,"v":190},{"a":"C","m":"V","c":"Russia","i":5,"t":3.8,"x":2080,"v":470},{"a":"C","m":"V","c":"Russia","i":5,"t":3.8,"x":2100,"v":850},
{"a":"C","m":"V","c":"Russia","i":6,"t":4.3,"x":2017,"v":0},{"a":"C","m":"V","c":"Russia","i":6,"t":4.3,"x":2040,"v":50},{"a":"C","m":"V","c":"Russia","i":6,"t":4.3,"x":2060,"v":230},{"a":"C","m":"V","c":"Russia","i":6,"t":4.3,"x":2080,"v":560},{"a":"C","m":"V","c":"Russia","i":6,"t":4.3,"x":2100,"v":1000},
{"a":"C","m":"V","c":"Russia","i":7,"t":4.8,"x":2017,"v":0},{"a":"C","m":"V","c":"Russia","i":7,"t":4.8,"x":2040,"v":60},{"a":"C","m":"V","c":"Russia","i":7,"t":4.8,"x":2060,"v":280},{"a":"C","m":"V","c":"Russia","i":7,"t":4.8,"x":2080,"v":680},{"a":"C","m":"V","c":"Russia","i":7,"t":4.8,"x":2100,"v":1200},
{"a":"C","m":"V","c":"Russia","i":8,"t":5.4,"x":2017,"v":0},{"a":"C","m":"V","c":"Russia","i":8,"t":5.4,"x":2040,"v":70},{"a":"C","m":"V","c":"Russia","i":8,"t":5.4,"x":2060,"v":330},{"a":"C","m":"V","c":"Russia","i":8,"t":5.4,"x":2080,"v":800},{"a":"C","m":"V","c":"Russia","i":8,"t":5.4,"x":2100,"v":1500},
{"a":"C","m":"V","c":"United States","i":1,"t":1.8,"x":2017,"v":0},{"a":"C","m":"V","c":"United States","i":1,"t":1.8,"x":2040,"v":25},{"a":"C","m":"V","c":"United States","i":1,"t":1.8,"x":2060,"v":80},{"a":"C","m":"V","c":"United States","i":1,"t":1.8,"x":2080,"v":170},{"a":"C","m":"V","c":"United States","i":1,"t":1.8,"x":2100,"v":300},
{"a":"C","m":"V","c":"United States","i":2,"t":2.3,"x":2017,"v":0},{"a":"C","m":"V","c":"United States","i":2,"t":2.3,"x":2040,"v":22},{"a":"C","m":"V","c":"United States","i":2,"t":2.3,"x":2060,"v":70},{"a":"C","m":"V","c":"United States","i":2,"t":2.3,"x":2080,"v":140},{"a":"C","m":"V","c":"United States","i":2,"t":2.3,"x":2100,"v":240},
{"a":"C","m":"V","c":"United States","i":3,"t":2.8,"x":2017,"v":0},{"a":"C","m":"V","c":"United States","i":3,"t":2.8,"x":2040,"v":18},{"a":"C","m":"V","c":"United States","i":3,"t":2.8,"x":2060,"v":45},{"a":"C","m":"V","c":"United States","i":3,"t":2.8,"x":2080,"v":75},{"a":"C","m":"V","c":"United States","i":3,"t":2.8,"x":2100,"v":95},
{"a":"C","m":"V","c":"United States","i":4,"t":3.3,"x":2017,"v":0},{"a":"C","m":"V","c":"United States","i":4,"t":3.3,"x":2040,"v":20},{"a":"C","m":"V","c":"United States","i":4,"t":3.3,"x":2060,"v":55},{"a":"C","m":"V","c":"United States","i":4,"t":3.3,"x":2080,"v":100},{"a":"C","m":"V","c":"United States","i":4,"t":3.3,"x":2100,"v":150},
{"a":"C","m":"V","c":"United States","i":5,"t":3.6,"x":2017,"v":0},{"a":"C","m":"V","c":"United States","i":5,"t":3.6,"x":2040,"v":90},{"a":"C","m":"V","c":"United States","i":5,"t":3.6,"x":2060,"v":250},{"a":"C","m":"V","c":"United States","i":5,"t":3.6,"x":2080,"v":440},{"a":"C","m":"V","c":"United States","i":5,"t":3.6,"x":2100,"v":650},
{"a":"C","m":"V","c":"United States","i":6,"t":4.5,"x":2017,"v":0},{"a":"C","m":"V","c":"United States","i":6,"t":4.5,"x":2040,"v":23},{"a":"C","m":"V","c":"United States","i":6,"t":4.5,"x":2060,"v":70},{"a":"C","m":"V","c":"United States","i":6,"t":4.5,"x":2080,"v":140},{"a":"C","m":"V","c":"United States","i":6,"t":4.5,"x":2100,"v":230},
{"a":"C","m":"V","c":"United States","i":7,"t":5.2,"x":2017,"v":0},{"a":"C","m":"V","c":"United States","i":7,"t":5.2,"x":2040,"v":24},{"a":"C","m":"V","c":"United States","i":7,"t":5.2,"x":2060,"v":75},{"a":"C","m":"V","c":"United States","i":7,"t":5.2,"x":2080,"v":145},{"a":"C","m":"V","c":"United States","i":7,"t":5.2,"x":2100,"v":240},
{"a":"C","m":"V","c":"United States","i":8,"t":5.5,"x":2017,"v":0},{"a":"C","m":"V","c":"United States","i":8,"t":5.5,"x":2040,"v":22},{"a":"C","m":"V","c":"United States","i":8,"t":5.5,"x":2060,"v":60},{"a":"C","m":"V","c":"United States","i":8,"t":5.5,"x":2080,"v":120},{"a":"C","m":"V","c":"United States","i":8,"t":5.5,"x":2100,"v":180}
]},
"config": {
  "font": "Liberation Serif",
  "view": {"stroke": "#333333", "strokeWidth": 1},
  "axis": {"labelFont": "Liberation Serif", "labelFontSize": 10.5, "labelColor": "#4d4d4d", "ticks": false, "domain": false, "labelPadding": 4, "titleFont": "Liberation Serif", "titleFontWeight": "normal", "titleFontSize": 13.3, "titleColor": "#000000", "labelOverlap": false, "labelFlush": false},
  "header": {"labelFont": "Liberation Serif", "labelFontSize": 11, "labelColor": "#333333", "labelPadding": 5},
  "legend": {"titleFont": "Liberation Serif", "titleFontSize": 14, "titleFontWeight": "normal", "titleColor": "#000000", "labelFont": "Liberation Serif", "labelFontSize": 10.5, "labelColor": "#333333"}
},
"resolve": {"scale": {"color": "independent"}},
"spacing": 4,
"hconcat": [
{
  "title": {"text": "Without Considering Adaptation", "font": "Liberation Serif", "fontSize": 23, "fontWeight": "normal", "color": "#000000", "anchor": "middle", "offset": 32, "dx": 31},
  "spacing": 12,
  "vconcat": [
  {
    "transform": [{"filter": "datum.a == 'W' && datum.m == 'B'"}],
    "facet": {"column": {"field": "c", "type": "nominal", "title": null}},
    "spacing": 6, "bounds": "flush",
    "spec": {"width": 103, "height": 176, "layer": [
      {"mark": {"type": "line", "strokeWidth": 1.1, "interpolate": "monotone", "clip": true},
       "encoding": {
        "x": {"field": "x", "type": "quantitative", "scale": {"domain": [2013, 2104], "nice": false, "zero": false}, "axis": {"title": null, "values": [2025, 2037.5, 2050, 2062.5, 2075, 2087.5, 2100], "format": "d", "labelOverlap": false, "labelExpr": "datum.value % 25 == 0 ? datum.label : ''", "gridColor": {"condition": {"test": "datum.value % 25 == 0", "value": "#e4e4e4"}, "value": "#f1f1f1"}}},
        "y": {"field": "v", "type": "quantitative", "title": "Impact to baseline", "scale": {"domain": [-115, 215], "nice": false, "zero": false}, "axis": {"values": [-100, -50, 0, 50, 100, 150, 200], "labelOverlap": false, "labelExpr": "datum.value % 100 == 0 ? datum.value + '%' : ''", "gridColor": {"condition": {"test": "datum.value % 100 == 0", "value": "#e4e4e4"}, "value": "#f1f1f1"}, "titlePadding": 8}},
        "detail": {"field": "i", "type": "nominal"},
        "color": {"field": "t", "type": "quantitative", "scale": {"scheme": "viridis", "domain": [1.34, 5.81]}, "legend": {"title": "Temperature Anomaly", "orient": "none", "legendX": 68, "legendY": 420, "direction": "horizontal", "gradientLength": 243, "gradientThickness": 8, "values": [2, 3, 4, 5], "labelExpr": "datum.value + '°C'", "titlePadding": 2, "labelOffset": 6}}
       }},
      {"transform": [{"filter": "datum.i == 1 && datum.x == 2017"}], "mark": {"type": "rule", "strokeDash": [5, 4], "color": "#222222", "strokeWidth": 1.2}, "encoding": {"y": {"datum": 0, "title": "Impact to baseline", "axis": {"values": [-100, -50, 0, 50, 100, 150, 200], "labelOverlap": false, "labelExpr": "datum.value % 100 == 0 ? datum.value + '%' : ''", "gridColor": {"condition": {"test": "datum.value % 100 == 0", "value": "#e4e4e4"}, "value": "#f1f1f1"}, "titlePadding": 8}}}},
      {"transform": [{"filter": "datum.i == 1 && datum.x == 2017"}], "mark": {"type": "rule", "color": "#222222", "strokeWidth": 1.2}, "encoding": {"y": {"datum": -100, "title": "Impact to baseline", "axis": {"values": [-100, -50, 0, 50, 100, 150, 200], "labelOverlap": false, "labelExpr": "datum.value % 100 == 0 ? datum.value + '%' : ''", "gridColor": {"condition": {"test": "datum.value % 100 == 0", "value": "#e4e4e4"}, "value": "#f1f1f1"}, "titlePadding": 8}}}}
    ]}
  },
  {
    "transform": [{"filter": "datum.a == 'W' && datum.m == 'V'"}],
    "facet": {"column": {"field": "c", "type": "nominal", "title": null, "header": {"labels": false}}},
    "spacing": 6, "bounds": "flush",
    "spec": {"width": 103, "height": 196, "layer": [
      {"mark": {"type": "line", "strokeWidth": 1.1, "interpolate": "monotone", "clip": true},
       "encoding": {
        "x": {"field": "x", "type": "quantitative", "scale": {"domain": [2013, 2104], "nice": false, "zero": false}, "axis": {"title": null, "values": [2025, 2037.5, 2050, 2062.5, 2075, 2087.5, 2100], "format": "d", "labelOverlap": false, "labelExpr": "datum.value % 25 == 0 ? datum.label : ''", "gridColor": {"condition": {"test": "datum.value % 25 == 0", "value": "#e4e4e4"}, "value": "#f1f1f1"}}},
        "y": {"field": "v", "type": "quantitative", "title": "Impact to 2017 Value (MSW)", "scale": {"domain": [-125, 425], "nice": false, "zero": false}, "axis": {"values": [-100, -50, 0, 50, 100, 150, 200, 250, 300, 350, 400], "labelOverlap": false, "labelExpr": "datum.value % 100 == 0 ? datum.value + '%' : ''", "gridColor": {"condition": {"test": "datum.value % 100 == 0", "value": "#e4e4e4"}, "value": "#f1f1f1"}, "titlePadding": 8}},
        "detail": {"field": "i", "type": "nominal"},
        "color": {"field": "t", "type": "quantitative", "scale": {"scheme": "viridis", "domain": [1.34, 5.81]}, "legend": {"title": "Temperature Anomaly", "orient": "none", "legendX": 68, "legendY": 420, "direction": "horizontal", "gradientLength": 243, "gradientThickness": 8, "values": [2, 3, 4, 5], "labelExpr": "datum.value + '°C'", "titlePadding": 2, "labelOffset": 6}}
       }},
      {"transform": [{"filter": "datum.i == 1 && datum.x == 2017"}], "mark": {"type": "rule", "strokeDash": [5, 4], "color": "#222222", "strokeWidth": 1.2}, "encoding": {"y": {"datum": 0, "title": "Impact to 2017 Value (MSW)", "axis": {"values": [-100, -50, 0, 50, 100, 150, 200, 250, 300, 350, 400], "labelOverlap": false, "labelExpr": "datum.value % 100 == 0 ? datum.value + '%' : ''", "gridColor": {"condition": {"test": "datum.value % 100 == 0", "value": "#e4e4e4"}, "value": "#f1f1f1"}, "titlePadding": 8}}}},
      {"transform": [{"filter": "datum.i == 1 && datum.x == 2017"}], "mark": {"type": "rule", "color": "#222222", "strokeWidth": 1.2}, "encoding": {"y": {"datum": -100, "title": "Impact to 2017 Value (MSW)", "axis": {"values": [-100, -50, 0, 50, 100, 150, 200, 250, 300, 350, 400], "labelOverlap": false, "labelExpr": "datum.value % 100 == 0 ? datum.value + '%' : ''", "gridColor": {"condition": {"test": "datum.value % 100 == 0", "value": "#e4e4e4"}, "value": "#f1f1f1"}, "titlePadding": 8}}}}
    ]}
  }
  ]
},
{
  "title": {"text": "Considering Adaptation", "font": "Liberation Serif", "fontSize": 23, "fontWeight": "normal", "color": "#000000", "anchor": "middle", "offset": 32},
  "spacing": 12,
  "vconcat": [
  {
    "transform": [{"filter": "datum.a == 'C' && datum.m == 'B'"}],
    "facet": {"column": {"field": "c", "type": "nominal", "title": null}},
    "spacing": 6, "bounds": "flush",
    "spec": {"width": 103, "height": 176, "resolve": {"axis": {"y": "independent"}}, "layer": [
      {"mark": {"type": "line", "strokeWidth": 1.1, "interpolate": "monotone", "clip": true},
       "encoding": {
        "x": {"field": "x", "type": "quantitative", "scale": {"domain": [2013, 2104], "nice": false, "zero": false}, "axis": {"title": null, "values": [2025, 2037.5, 2050, 2062.5, 2075, 2087.5, 2100], "format": "d", "labelOverlap": false, "labelExpr": "datum.value % 25 == 0 ? datum.label : ''", "gridColor": {"condition": {"test": "datum.value % 25 == 0", "value": "#e4e4e4"}, "value": "#f1f1f1"}}},
        "y": {"field": "v", "type": "quantitative", "title": "Impact to baseline", "scale": {"domain": [-115, 215], "nice": false, "zero": false}, "axis": {"values": [-100, -50, 0, 50, 100, 150, 200], "labelOverlap": false, "labelExpr": "datum.value % 100 == 0 ? datum.value + '%' : ''", "gridColor": {"condition": {"test": "datum.value % 100 == 0", "value": "#e4e4e4"}, "value": "#f1f1f1"}, "titlePadding": 8}},
        "detail": {"field": "i", "type": "nominal"},
        "color": {"field": "t", "type": "quantitative", "scale": {"scheme": "viridis", "domain": [1.34, 5.81]}, "legend": {"title": "Temperature Anomaly", "orient": "none", "legendX": 68, "legendY": 420, "direction": "horizontal", "gradientLength": 243, "gradientThickness": 8, "values": [2, 3, 4, 5], "labelExpr": "datum.value + '°C'", "titlePadding": 2, "labelOffset": 6}}
       }},
      {"transform": [{"filter": "datum.i == 1 && datum.x == 2017"}], "mark": {"type": "rule", "strokeDash": [5, 4], "color": "#222222", "strokeWidth": 1.2}, "encoding": {"y": {"datum": 0, "axis": null}}},
      {"transform": [{"filter": "datum.i == 1 && datum.x == 2017"}], "mark": {"type": "rule", "color": "#222222", "strokeWidth": 1.2}, "encoding": {"y": {"datum": -100, "axis": null}}}
    ]}
  },
  {
    "transform": [{"filter": "datum.a == 'C' && datum.m == 'V'"}],
    "facet": {"column": {"field": "c", "type": "nominal", "title": null, "header": {"labels": false}}},
    "spacing": 6, "bounds": "flush",
    "spec": {"width": 103, "height": 196, "resolve": {"axis": {"y": "independent"}}, "layer": [
      {"mark": {"type": "line", "strokeWidth": 1.1, "interpolate": "monotone", "clip": true},
       "encoding": {
        "x": {"field": "x", "type": "quantitative", "scale": {"domain": [2013, 2104], "nice": false, "zero": false}, "axis": {"title": null, "values": [2025, 2037.5, 2050, 2062.5, 2075, 2087.5, 2100], "format": "d", "labelOverlap": false, "labelExpr": "datum.value % 25 == 0 ? datum.label : ''", "gridColor": {"condition": {"test": "datum.value % 25 == 0", "value": "#e4e4e4"}, "value": "#f1f1f1"}}},
        "y": {"field": "v", "type": "quantitative", "title": "Impact to 2017 Value (MSW)", "scale": {"domain": [-125, 425], "nice": false, "zero": false}, "axis": {"values": [-100, -50, 0, 50, 100, 150, 200, 250, 300, 350, 400], "labelOverlap": false, "labelExpr": "datum.value % 100 == 0 ? datum.value + '%' : ''", "gridColor": {"condition": {"test": "datum.value % 100 == 0", "value": "#e4e4e4"}, "value": "#f1f1f1"}, "titlePadding": 8}},
        "detail": {"field": "i", "type": "nominal"},
        "color": {"field": "t", "type": "quantitative", "scale": {"scheme": "viridis", "domain": [1.34, 5.81]}, "legend": {"title": "Temperature Anomaly", "orient": "none", "legendX": 68, "legendY": 420, "direction": "horizontal", "gradientLength": 243, "gradientThickness": 8, "values": [2, 3, 4, 5], "labelExpr": "datum.value + '°C'", "titlePadding": 2, "labelOffset": 6}}
       }},
      {"transform": [{"filter": "datum.i == 1 && datum.x == 2017"}], "mark": {"type": "rule", "strokeDash": [5, 4], "color": "#222222", "strokeWidth": 1.2}, "encoding": {"y": {"datum": 0, "axis": null}}},
      {"transform": [{"filter": "datum.i == 1 && datum.x == 2017"}], "mark": {"type": "rule", "color": "#222222", "strokeWidth": 1.2}, "encoding": {"y": {"datum": -100, "axis": null}}}
    ]}
  }
  ]
}
]
}
